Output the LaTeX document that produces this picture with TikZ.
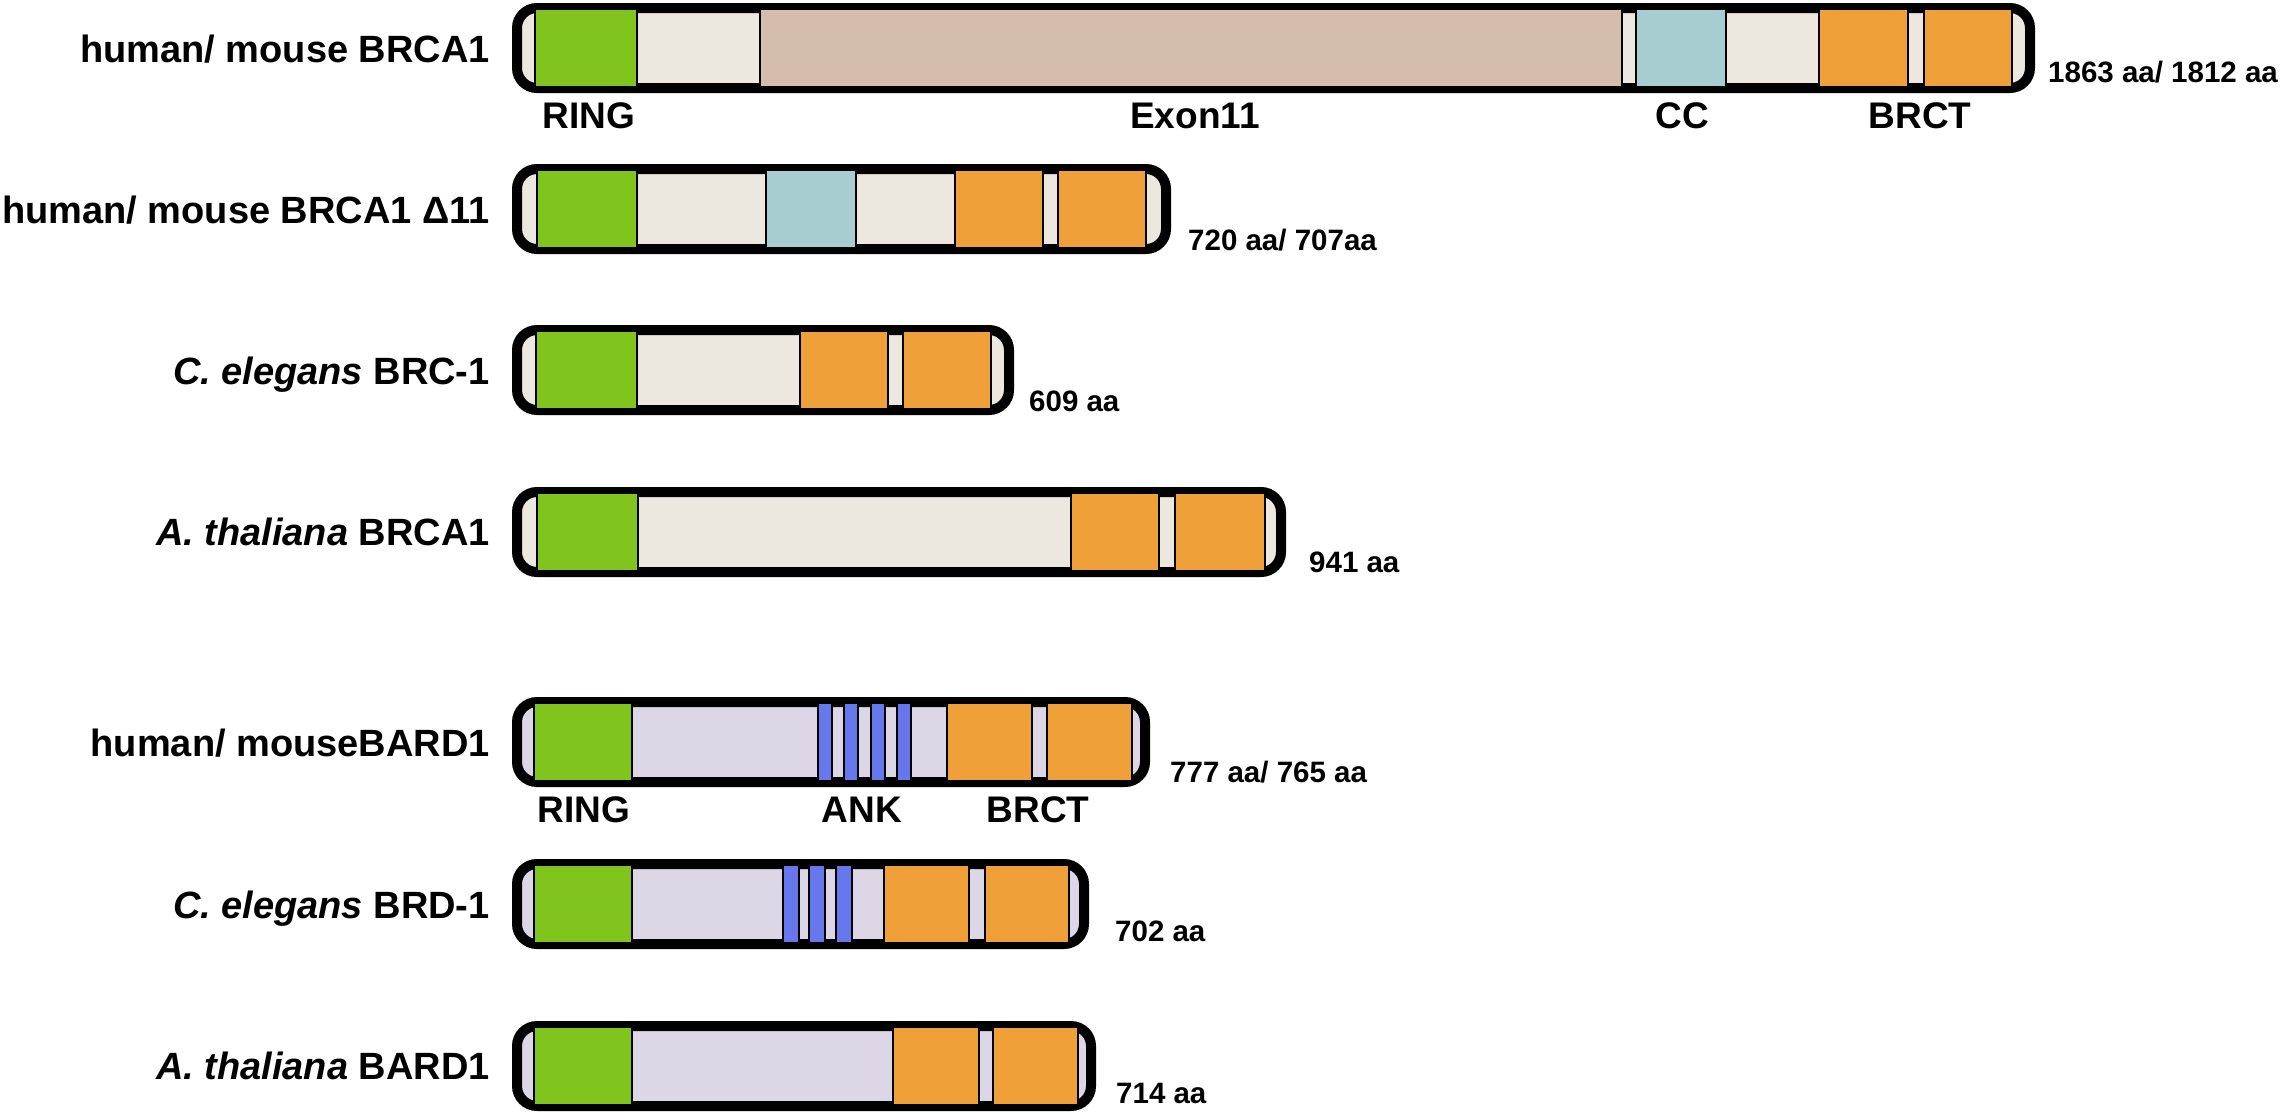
\documentclass[tikz,border=0pt]{standalone}
\usepackage{fontspec}
\setmainfont{Liberation Sans}
\definecolor{ringC}{RGB}{130,196,30}
\definecolor{linkC}{RGB}{236,232,223}
\definecolor{exonC}{RGB}{212,189,170}
\definecolor{ccC}{RGB}{168,205,208}
\definecolor{brctC}{RGB}{240,160,56}
\definecolor{bardC}{RGB}{221,214,230}
\definecolor{ankC}{RGB}{103,120,236}
\tikzset{
  outerbox/.style={draw=black, line width=10pt, rounded corners=20pt},
  domainbox/.style={draw=black, line width=1.6pt},
  titletext/.style={anchor=base east, inner sep=0pt, font=\fontsize{38}{40}\selectfont\bfseries},
  lentext/.style={anchor=base west, inner sep=0pt, font=\fontsize{29.5}{31}\selectfont\bfseries},
  domtext/.style={anchor=base, inner sep=0pt, font=\fontsize{37}{40}\selectfont\bfseries},
}
\newcommand\protbox[3]{% top, right, fill
  \draw[outerbox, fill=#3] (517,{#1+5}) rectangle ({#2-5},{#1+85});}
\newcommand\pdomain[4]{% top, x1, x2, color
  \draw[domainbox, fill=#4] (#2,{#1+6}) rectangle (#3,{#1+84});}
\begin{document}
\begin{tikzpicture}[x=1pt,y=-1pt]
\useasboundingbox[fill=white] (0,0) rectangle (2281,1114);

% Row 1: human/mouse BRCA1 (top 3)
\protbox{3}{2035}{linkC}
\pdomain{3}{535}{637}{ringC}
\pdomain{3}{760}{1622}{exonC}
\pdomain{3}{1636}{1726}{ccC}
\pdomain{3}{1819}{1908}{brctC}
\pdomain{3}{1924}{2012}{brctC}
\node[titletext] (t1) at (490,62) {human/ mouse BRCA1};
\node[lentext] (l1) at (2048,82) {1863 aa/ 1812 aa};
\node[domtext] (d1a) at (589,128) {RING};
\node[domtext] (d1b) at (1195,128) {Exon11};
\node[domtext] (d1c) at (1682,128) {CC};
\node[domtext] (d1d) at (1920,128) {BRCT};

% Row 2: BRCA1 delta11 (top 164)
\protbox{164}{1171}{linkC}
\pdomain{164}{537}{637}{ringC}
\pdomain{164}{766}{856}{ccC}
\pdomain{164}{955}{1043}{brctC}
\pdomain{164}{1058}{1146}{brctC}
\node[titletext] (t2) at (490,223) {human/ mouse BRCA1 Δ11};
\node[lentext] (l2) at (1188,250) {720 aa/ 707aa};

% Row 3: C. elegans BRC-1 (top 325)
\protbox{325}{1014}{linkC}
\pdomain{325}{536}{637}{ringC}
\pdomain{325}{800}{888}{brctC}
\pdomain{325}{903}{991}{brctC}
\node[titletext] (t3) at (490,384) {\itshape C. elegans\upshape\ BRC-1};
\node[lentext] (l3) at (1029,411) {609 aa};

% Row 4: A. thaliana BRCA1 (top 487)
\protbox{487}{1286}{linkC}
\pdomain{487}{537}{638}{ringC}
\pdomain{487}{1071}{1159}{brctC}
\pdomain{487}{1175}{1265}{brctC}
\node[titletext] (t4) at (490,545) {\itshape A. thaliana\upshape\ BRCA1};
\node[lentext] (l4) at (1309,572) {941 aa};

% Row 5: human/mouse BARD1 (top 697)
\protbox{697}{1150}{bardC}
\pdomain{697}{534}{632}{ringC}
\pdomain{697}{818}{832}{ankC}
\pdomain{697}{844}{858}{ankC}
\pdomain{697}{871}{885}{ankC}
\pdomain{697}{897}{911}{ankC}
\pdomain{697}{947}{1032}{brctC}
\pdomain{697}{1047}{1132}{brctC}
\node[titletext] (t5) at (490,756) {human/ mouseBARD1};
\node[lentext] (l5) at (1170,782) {777 aa/ 765 aa};
\node[domtext] (d5a) at (584,822) {RING};
\node[domtext] (d5b) at (862,822) {ANK};
\node[domtext] (d5c) at (1038,822) {BRCT};

% Row 6: C. elegans BRD-1 (top 859)
\protbox{859}{1089}{bardC}
\pdomain{859}{534}{632}{ringC}
\pdomain{859}{783}{799}{ankC}
\pdomain{859}{809}{825}{ankC}
\pdomain{859}{836}{852}{ankC}
\pdomain{859}{884}{969}{brctC}
\pdomain{859}{985}{1069}{brctC}
\node[titletext] (t6) at (490,918) {\itshape C. elegans\upshape\ BRD-1};
\node[lentext] (l6) at (1115,941) {702 aa};

% Row 7: A. thaliana BARD1 (top 1021)
\protbox{1021}{1096}{bardC}
\pdomain{1021}{534}{632}{ringC}
\pdomain{1021}{893}{979}{brctC}
\pdomain{1021}{993}{1078}{brctC}
\node[titletext] (t7) at (490,1079) {\itshape A. thaliana\upshape\ BARD1};
\node[lentext] (l7) at (1116,1103) {714 aa};
\end{tikzpicture}
\end{document}
